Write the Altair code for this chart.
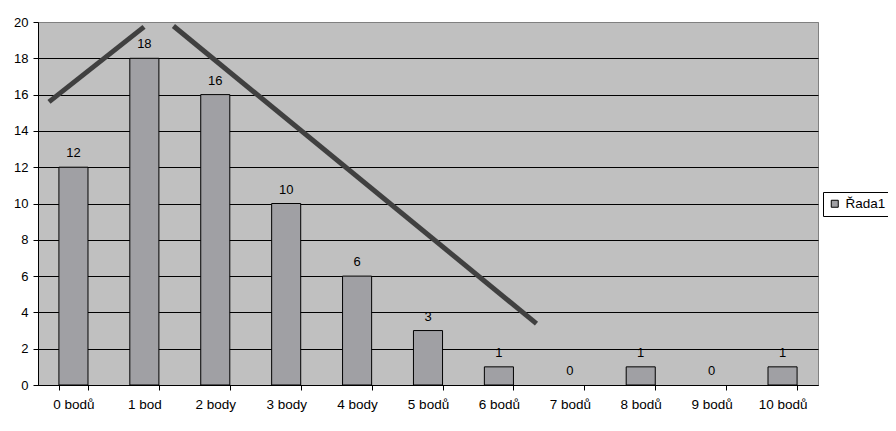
import altair as alt
import pandas as pd

categories = ["0 bodů", "1 bod", "2 body", "3 body", "4 body", "5 bodů",
              "6 bodů", "7 bodů", "8 bodů", "9 bodů", "10 bodů"]
values = [12, 18, 16, 10, 6, 3, 1, 0, 1, 0, 1]
series_name = "Řada1"
y_ticks = [0, 2, 4, 6, 8, 10, 12, 14, 16, 18, 20]

# hand-drawn trend strokes, in (category index, value) coordinates
line_seg = ["a", "a", "b", "b"]
line_x = [-0.345, 0.995, 1.41, 6.53]
line_y = [15.6, 19.73, 19.78, 3.38]

df = pd.DataFrame({"cat": categories, "val": values, "series": series_name})
ldf = pd.DataFrame({"seg": line_seg, "idx": line_x, "val": line_y})

FONT = "Liberation Sans"
yscale = alt.Scale(domain=[0, 20], nice=False)
yaxis = alt.Axis(title=None, values=y_ticks, grid=True,
                 gridColor={"condition": {"test": "datum.value == 20", "value": "#808080"}, "value": "black"},
                 tickSize=5, labelPadding=5, labelFontSize=13)
xband = alt.Scale(domain=categories, paddingInner=0.59, paddingOuter=0.295)

bars = alt.Chart(df).mark_bar(strokeWidth=1).encode(
    x=alt.X("cat:N", sort=categories, scale=xband,
            axis=alt.Axis(title=None, labelAngle=0, tickBand="extent", grid=False,
                          tickSize=5, labelPadding=7, labelFontSize=13.5)),
    y=alt.Y("val:Q", scale=yscale, axis=yaxis),
    color=alt.Color("series:N", scale=alt.Scale(range=["#a0a0a4"]),
                    legend=alt.Legend(title=None, orient="none", legendX=785, legendY=170,
                                      symbolType="square", symbolSize=49,
                                      symbolStrokeColor="black", symbolStrokeWidth=1,
                                      strokeColor="black", fillColor="white",
                                      padding=5, labelFontSize=13.5, labelFont=FONT,
                                      labelOffset=4)),
    stroke=alt.condition("datum.val > 0", alt.value("black"), alt.value("transparent")),
)

labels = alt.Chart(df).mark_text(dy=-10, baseline="alphabetic", fontSize=13,
                                 font=FONT, color="black").encode(
    x=alt.X("cat:N", sort=categories, scale=xband, axis=None),
    y=alt.Y("val:Q", scale=yscale, axis=yaxis),
    text="val:Q",
)

lines = alt.Chart(ldf).mark_line(color="#404040", strokeWidth=5).encode(
    x=alt.X("idx:Q", scale=alt.Scale(domain=[-0.5, 10.5], nice=False, zero=False), axis=None),
    y=alt.Y("val:Q", scale=yscale, axis=yaxis),
    detail="seg:N",
)

chart = alt.layer(bars, labels, lines).resolve_scale(x="independent").properties(
    width=780, height=363,
    autosize=alt.AutoSizeParams(type="none"),
    padding={"left": 30, "top": 14, "right": 70, "bottom": 38},
    background="white",
).configure_view(
    fill="#c0c0c0", stroke="#808080", strokeWidth=1
).configure_axis(
    domainColor="black", tickColor="black", labelColor="black",
    labelFont=FONT, gridWidth=1
)

chart.save("out.html", embed_options={"renderer": "svg", "actions": False})
